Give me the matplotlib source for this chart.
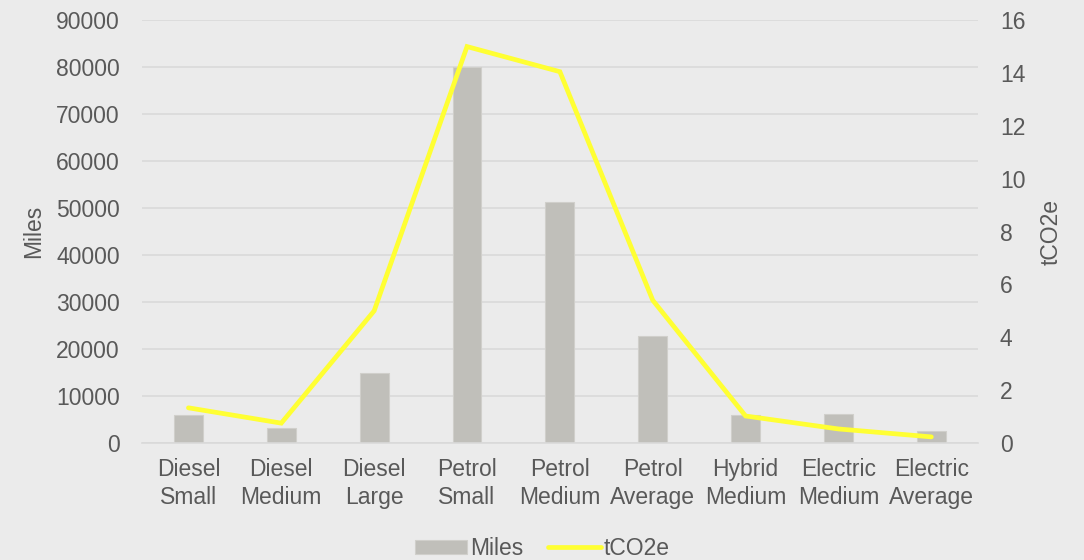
import matplotlib
matplotlib.use("Agg")
import matplotlib.pyplot as plt
import numpy as np

plt.rcParams['font.family'] = ['Liberation Sans', 'DejaVu Sans']

categories = ["Diesel\nSmall", "Diesel\nMedium", "Diesel\nLarge", "Petrol\nSmall",
              "Petrol\nMedium", "Petrol\nAverage", "Hybrid\nMedium", "Electric\nMedium",
              "Electric\nAverage"]
miles = [6000, 3100, 14800, 80100, 51300, 22800, 5900, 6100, 2600]
tco2e = [1.33, 0.75, 5.0, 15.0, 14.05, 5.4, 1.02, 0.53, 0.23]

bg = "#EBEBEB"
text_c = "#595959"
grid_c = "#D9D9D9"
bar_c = "#C0BFBA"
line_c = "#FFFF33"
fs = 16.5

fig = plt.figure(figsize=(10.84, 5.6), dpi=100, facecolor=bg)
ax = fig.add_axes([0.131, 0.209, 0.771, 0.755], facecolor=bg)
ax2 = ax.twinx()

x = np.arange(len(categories))
bars = ax.bar(x, miles, width=0.31, color=bar_c, edgecolor="#D0CFCB", linewidth=0.8,
              label="Miles", zorder=2)
line, = ax2.plot(x, tco2e, color=line_c, linewidth=3.4, solid_capstyle="round",
                 solid_joinstyle="miter", label="tCO2e", zorder=3)

ax.set_xlim(-0.5, len(categories) - 0.5)
ax.set_ylim(0, 90000)
ax.set_yticks(np.arange(0, 90001, 10000))
ax2.set_ylim(0, 16)
ax2.set_yticks(np.arange(0, 17, 2))

ax.yaxis.grid(True, color=grid_c, linewidth=1.2, zorder=0)
ax.set_axisbelow(True)
for a in (ax, ax2):
    for s in a.spines.values():
        s.set_visible(False)
    a.tick_params(length=0, labelsize=fs, labelcolor=text_c)
ax.spines['bottom'].set_visible(True)
ax.spines['bottom'].set_color(grid_c)
ax.spines['bottom'].set_linewidth(1.2)

ax.set_xticks(x)
ax.set_xticklabels(categories, fontsize=fs, color=text_c, linespacing=1.25)
ax.tick_params(axis='x', pad=11)
ax.tick_params(axis='y', pad=16)
ax2.tick_params(axis='y', pad=16)

ax.set_ylabel("Miles", fontsize=fs, color=text_c, labelpad=8)
ax2.set_ylabel("tCO2e", fontsize=fs, color=text_c, labelpad=10)

ax2.set_zorder(ax.get_zorder() + 1)
ax2.patch.set_visible(False)

fig.legend([bars, line], ["Miles", "tCO2e"], loc="center", bbox_to_anchor=(0.5, 0.021),
           ncol=2, frameon=False, fontsize=fs, labelcolor=text_c, handlelength=2.3,
           handleheight=0.55, handletextpad=0.1, columnspacing=1.1)

fig.savefig("out.png", dpi=100, facecolor=bg)
